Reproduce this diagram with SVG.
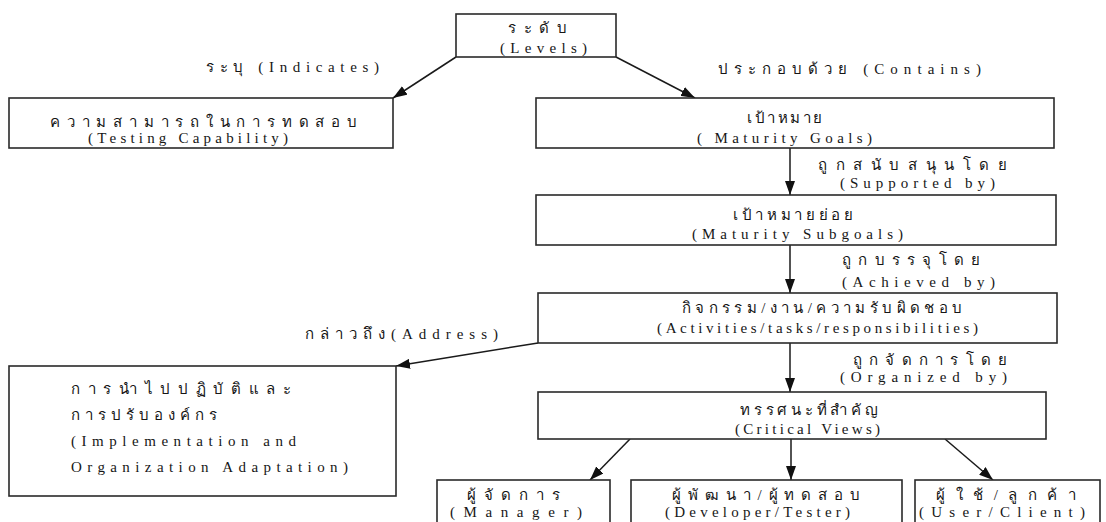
<svg xmlns="http://www.w3.org/2000/svg" width="1106" height="522" viewBox="0 0 1106 522">
<defs>
<marker id="ah" viewBox="0 0 14 10" refX="14" refY="5" markerWidth="14" markerHeight="10" markerUnits="userSpaceOnUse" orient="auto">
<path d="M0,0 L14,5 L0,10 Z" fill="#111"/>
</marker>
<style>
.box{fill:#fff;stroke:#2a2a2a;stroke-width:1.6}
.t{font-family:"Liberation Serif","DejaVu Serif","Noto Sans",serif;font-size:15px;fill:#161616}
.c{stroke:#1a1a1a;stroke-width:1.5;fill:none;marker-end:url(#ah)}
</style>
</defs>
<rect width="1106" height="522" fill="#fff"/>
<g id="connectors">
<line class="c" x1="456" y1="57" x2="393" y2="98"/>
<line class="c" x1="616" y1="57" x2="695" y2="98"/>
<line class="c" x1="790" y1="148" x2="790" y2="195"/>
<line class="c" x1="790" y1="245" x2="790" y2="293"/>
<line class="c" x1="538" y1="343" x2="396" y2="366"/>
<line class="c" x1="790" y1="343" x2="790" y2="392"/>
<line class="c" x1="630" y1="439" x2="590" y2="480"/>
<line class="c" x1="791" y1="439" x2="791" y2="480"/>
<line class="c" x1="945" y1="439" x2="993" y2="480"/>
</g>
<g id="labels">
<text class="t" x="206" y="72" textLength="173" lengthAdjust="spacing">ระบุ (Indicates)</text>
<text class="t" x="718" y="74" textLength="263" lengthAdjust="spacing">ประกอบด้วย (Contains)</text>
<text class="t" x="818" y="170" textLength="189" lengthAdjust="spacing">ถูกสนับสนุนโดย</text>
<text class="t" x="840" y="188" textLength="155" lengthAdjust="spacing">(Supported by)</text>
<text class="t" x="842" y="265" textLength="138" lengthAdjust="spacing">ถูกบรรจุโดย</text>
<text class="t" x="842" y="287" textLength="153" lengthAdjust="spacing">(Achieved by)</text>
<text class="t" x="305" y="339" textLength="193" lengthAdjust="spacing">กล่าวถึง(Address)</text>
<text class="t" x="853" y="365" textLength="154" lengthAdjust="spacing">ถูกจัดการโดย</text>
<text class="t" x="840" y="382" textLength="167" lengthAdjust="spacing">(Organized by)</text>
</g>
<g id="levels">
<rect class="box" x="456" y="14" width="160" height="43"/>
<text class="t" x="508" y="33" textLength="59" lengthAdjust="spacing">ระดับ</text>
<text class="t" x="500" y="53" textLength="87" lengthAdjust="spacing">(Levels)</text>
</g>
<g id="testing">
<rect class="box" x="9" y="98" width="384" height="50"/>
<text class="t" x="50" y="127" textLength="307" lengthAdjust="spacing">ความสามารถในการทดสอบ</text>
<text class="t" x="88" y="143" textLength="200" lengthAdjust="spacing">(Testing Capability)</text>
</g>
<g id="goals">
<rect class="box" x="536" y="98" width="518" height="50"/>
<text class="t" x="747" y="123" textLength="75" lengthAdjust="spacing">เป้าหมาย</text>
<text class="t" x="697" y="143" textLength="175" lengthAdjust="spacing">( Maturity Goals)</text>
</g>
<g id="subgoals">
<rect class="box" x="536" y="195" width="520" height="50"/>
<text class="t" x="733" y="220" textLength="120" lengthAdjust="spacing">เป้าหมายย่อย</text>
<text class="t" x="692" y="239" textLength="211" lengthAdjust="spacing">(Maturity Subgoals)</text>
</g>
<g id="activities">
<rect class="box" x="538" y="293" width="519" height="50"/>
<text class="t" x="682" y="313" textLength="280" lengthAdjust="spacing">กิจกรรม/งาน/ความรับผิดชอบ</text>
<text class="t" x="657" y="333" textLength="321" lengthAdjust="spacing">(Activities/tasks/responsibilities)</text>
</g>
<g id="implementation">
<rect class="box" x="9" y="366" width="387" height="130"/>
<text class="t" x="71" y="394" textLength="220" lengthAdjust="spacing">การนำไปปฏิบัติและ</text>
<text class="t" x="71" y="420" textLength="146" lengthAdjust="spacing">การปรับองค์กร</text>
<text class="t" x="71" y="446" textLength="225" lengthAdjust="spacing">(Implementation and</text>
<text class="t" x="71" y="472" textLength="277" lengthAdjust="spacing">Organization Adaptation)</text>
</g>
<g id="critical">
<rect class="box" x="538" y="392" width="508" height="47"/>
<text class="t" x="740" y="415" textLength="138" lengthAdjust="spacing">ทรรศนะที่สำคัญ</text>
<text class="t" x="735" y="434" textLength="145" lengthAdjust="spacing">(Critical Views)</text>
</g>
<g id="manager">
<rect class="box" x="437" y="480" width="173" height="50"/>
<text class="t" x="467" y="500" textLength="93" lengthAdjust="spacing">ผู้จัดการ</text>
<text class="t" x="450" y="517" textLength="132" lengthAdjust="spacing">(Manager)</text>
</g>
<g id="developer">
<rect class="box" x="631" y="480" width="271" height="50"/>
<text class="t" x="672" y="500" textLength="188" lengthAdjust="spacing">ผู้พัฒนา/ผู้ทดสอบ</text>
<text class="t" x="665" y="517" textLength="185" lengthAdjust="spacing">(Developer/Tester)</text>
</g>
<g id="user">
<rect class="box" x="915" y="480" width="185" height="50"/>
<text class="t" x="936" y="500" textLength="140" lengthAdjust="spacing">ผู้ใช้/ลูกค้า</text>
<text class="t" x="919" y="517" textLength="166" lengthAdjust="spacing">(User/Client)</text>
</g>
</svg>
